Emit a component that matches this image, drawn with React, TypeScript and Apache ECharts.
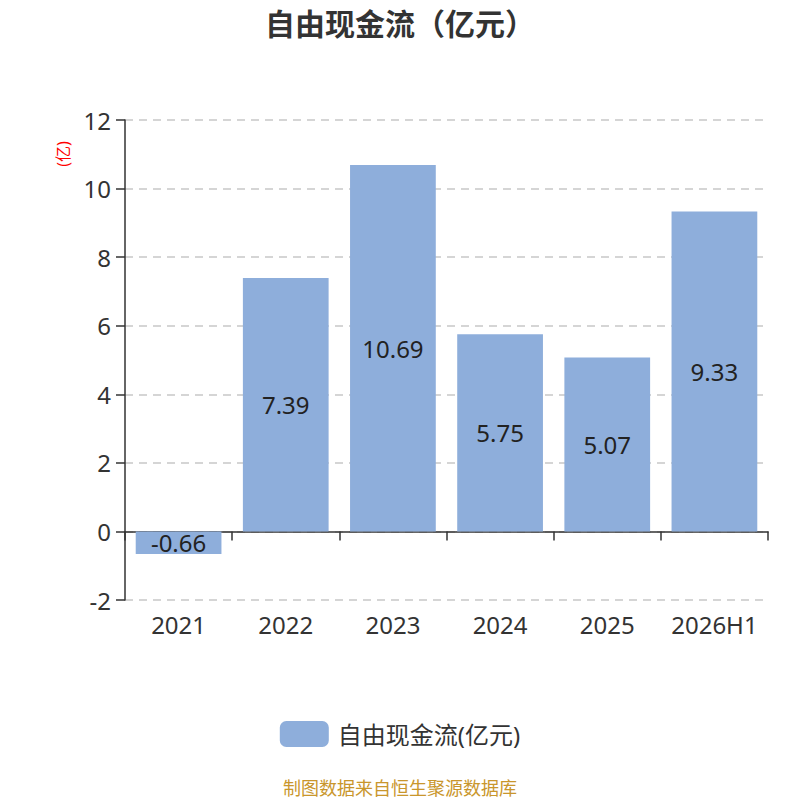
import React, { useEffect, useRef } from "react";
import * as echarts from "echarts";

const categories = ["2021", "2022", "2023", "2024", "2025", "2026H1"];
const values = [-0.66, 7.39, 10.69, 5.75, 5.07, 9.33];
const seriesName = "自由现金流(亿元)";
const titleText = "自由现金流（亿元）";
const unitText = "(亿)";
const footerText = "制图数据来自恒生聚源数据库";

const FONT = '"Noto Sans", "Noto Sans CJK SC", sans-serif';

export default function App() {
  const ref = useRef<HTMLDivElement>(null);
  useEffect(() => {
    if (!ref.current) return;
    document.body.style.margin = "0";
    const chart = echarts.init(ref.current, undefined, { renderer: "svg" });
    chart.setOption({
      animation: false,
      textStyle: { fontFamily: FONT },
      title: {
        text: titleText,
        left: "center",
        top: 3,
        textStyle: { fontSize: 30, fontWeight: "bold", color: "#333", fontFamily: FONT },
      },
      legend: {
        top: 716,
        left: "center",
        itemWidth: 49,
        itemHeight: 26,
        itemGap: 10,
        icon: "roundRect",
        textStyle: { fontSize: 24, color: "#333", fontFamily: FONT, padding: [0, 0, 0, 4] },
        data: [seriesName],
      },
      grid: { left: 125, right: 32, top: 120, bottom: 200, containLabel: false },
      xAxis: [
        {
          type: "category",
          data: categories,
          position: "bottom",
          axisLine: { show: false, onZero: false },
          axisTick: { show: false },
          axisLabel: { interval: 0, fontSize: 24, color: "#333", margin: 12, fontFamily: FONT },
        },
        {
          type: "category",
          data: categories,
          position: "bottom",
          axisLine: { show: true, onZero: true, lineStyle: { color: "#333", width: 1.5 } },
          axisTick: { show: true, interval: 0, length: 9, lineStyle: { color: "#333", width: 1.5 } },
          axisLabel: { show: false },
        },
      ],
      yAxis: {
        type: "value",
        min: -2,
        max: 12,
        interval: 2,
        axisLine: { show: true, lineStyle: { color: "#333", width: 1.5 } },
        axisTick: { show: true, length: 9, lineStyle: { color: "#333", width: 1.5 } },
        axisLabel: { fontSize: 24, color: "#333", margin: 14, fontFamily: FONT },
        splitLine: { show: true, lineStyle: { type: [8, 6], color: "#c8c8c8", width: 1.5 } },
      },
      series: [
        {
          name: seriesName,
          type: "bar",
          data: values,
          barCategoryGap: "20%",
          itemStyle: { color: "#8eaedb" },
          label: {
            show: true,
            position: "inside",
            fontSize: 24,
            color: "#222",
            fontFamily: FONT,
          },
        },
      ],
      graphic: [
        {
          type: "text",
          x: 63,
          y: 154,
          rotation: Math.PI / 2,
          style: {
            text: unitText,
            fill: "#ff0000",
            fontSize: 16,
            fontFamily: FONT,
            align: "center",
            verticalAlign: "middle",
          },
        },
        {
          type: "text",
          left: "center",
          top: 779,
          style: {
            text: footerText,
            fill: "#c9962c",
            fontSize: 18,
            fontFamily: FONT,
          },
        },
      ],
    });
    return () => chart.dispose();
  }, []);
  return <div ref={ref} style={{ width: 800, height: 800 }} />;
}
